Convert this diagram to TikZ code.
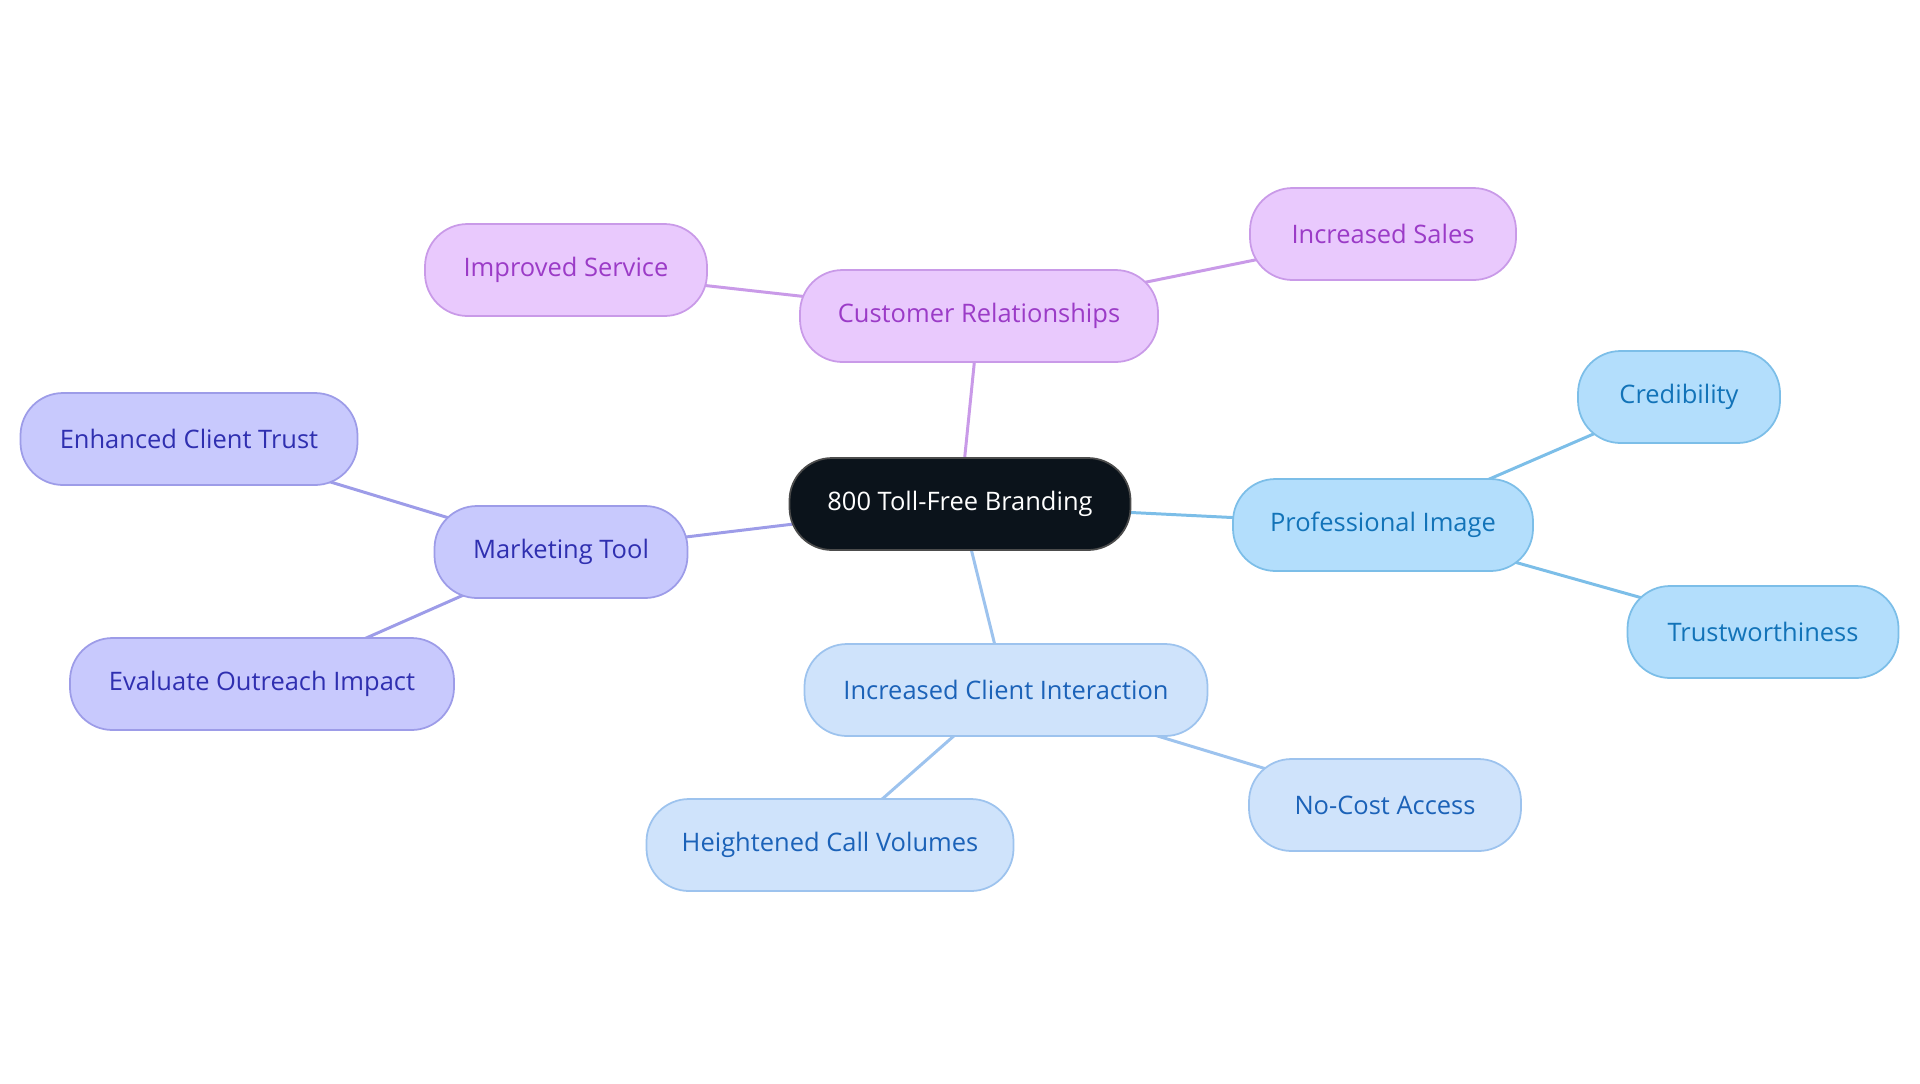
\documentclass[tikz,border=0pt]{standalone}
\usepackage{fontspec}
\setmainfont{Open Sans}
\usetikzlibrary{backgrounds}
\definecolor{cfill}{HTML}{0B131B}
\definecolor{pfill}{HTML}{E9C9FD}
\definecolor{pline}{HTML}{C99AE8}
\definecolor{ptext}{HTML}{9B3BC7}
\definecolor{bfill}{HTML}{B3DEFC}
\definecolor{bline}{HTML}{7CBEE8}
\definecolor{btext}{HTML}{1273B8}
\definecolor{lfill}{HTML}{CFE3FB}
\definecolor{lline}{HTML}{9DC3EE}
\definecolor{ltext}{HTML}{1B62B8}
\definecolor{vfill}{HTML}{C8C9FD}
\definecolor{vline}{HTML}{9D9CE8}
\definecolor{vtext}{HTML}{2F2FB0}
\tikzset{
  box/.style={rectangle, rounded corners=0.85cm, minimum height=1.84cm, inner sep=0pt, line width=1pt, font=\fontsize{14.5}{17}\selectfont},
  cbox/.style={box, fill=cfill, draw=gray!60!black, text=white},
  pbox/.style={box, fill=pfill, draw=pline, text=ptext},
  bbox/.style={box, fill=bfill, draw=bline, text=btext},
  lbox/.style={box, fill=lfill, draw=lline, text=ltext},
  vbox/.style={box, fill=vfill, draw=vline, text=vtext},
  edge/.style={line width=1.7pt},
}
\begin{document}
\begin{tikzpicture}[x=0.02cm,y=-0.02cm]
\useasboundingbox (0,0) rectangle (1920,1083);
\node[cbox, minimum width=341*0.02cm] (c) at (960,504) {800 Toll-Free Branding};
\node[pbox, minimum width=358*0.02cm] (cr) at (979,316) {Customer Relationships};
\node[pbox, minimum width=282*0.02cm] (is) at (566,270) {Improved Service};
\node[pbox, minimum width=266*0.02cm] (sa) at (1383,234) {Increased Sales};
\node[bbox, minimum width=300*0.02cm] (pi) at (1383,525) {Professional Image};
\node[bbox, minimum width=202*0.02cm] (cb) at (1679,397) {Credibility};
\node[bbox, minimum width=271*0.02cm] (tw) at (1763,632) {Trustworthiness};
\node[lbox, minimum width=403*0.02cm] (ci) at (1006,690) {Increased Client Interaction};
\node[lbox, minimum width=272*0.02cm] (nc) at (1385,805) {No-Cost Access};
\node[lbox, minimum width=367*0.02cm] (hc) at (830,845) {Heightened Call Volumes};
\node[vbox, minimum width=253*0.02cm] (mt) at (561,552) {Marketing Tool};
\node[vbox, minimum width=337*0.02cm] (et) at (189,439) {Enhanced Client Trust};
\node[vbox, minimum width=384*0.02cm] (eo) at (262,684) {Evaluate Outreach Impact};
\begin{scope}[on background layer]
\draw[edge, pline] (c.center) -- (cr.center);
\draw[edge, pline] (cr.center) -- (is.center);
\draw[edge, pline] (cr.center) -- (sa.center);
\draw[edge, bline] (c.center) -- (pi.center);
\draw[edge, bline] (pi.center) -- (cb.center);
\draw[edge, bline] (pi.center) -- (tw.center);
\draw[edge, lline] (c.center) -- (ci.center);
\draw[edge, lline] (ci.center) -- (nc.center);
\draw[edge, lline] (ci.center) -- (hc.center);
\draw[edge, vline] (c.center) -- (mt.center);
\draw[edge, vline] (mt.center) -- (et.center);
\draw[edge, vline] (mt.center) -- (eo.center);
\end{scope}
\end{tikzpicture}
\end{document}
